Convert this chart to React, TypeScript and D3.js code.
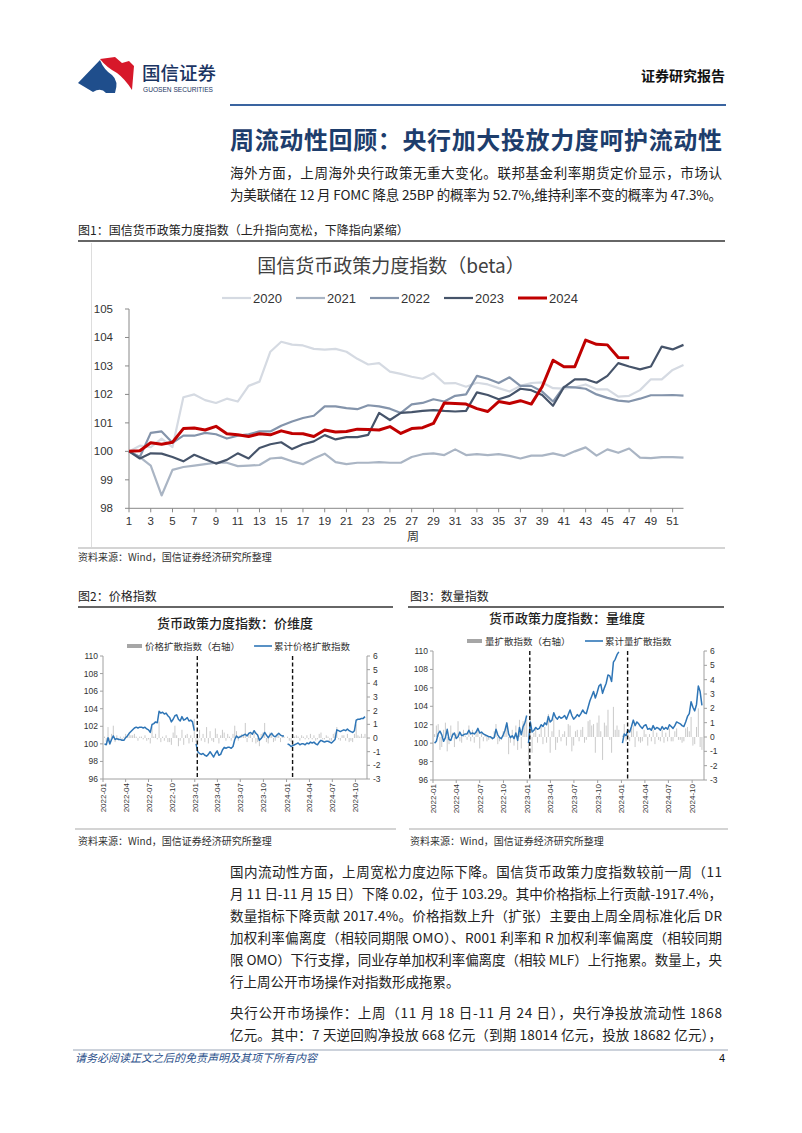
import React from 'react';
import * as d3 from 'd3';

// ---------- Main chart data (weekly, index 100 at week 1) ----------
const weekTicks = [1,3,5,7,9,11,13,15,17,19,21,23,25,27,29,31,33,35,37,39,41,43,45,47,49,51];
const yTicksMain = [98,99,100,101,102,103,104,105];
const y2020 = [100,100.2,100.15,100.45,100.15,101.9,102.0,101.8,101.7,101.85,101.75,102.3,102.45,103.5,103.85,103.75,103.72,103.6,103.57,103.6,103.5,103.25,103.05,103.1,102.8,102.72,102.62,102.55,102.74,102.39,102.4,102.27,102.41,102.35,102.22,102.1,102.3,102.4,102.42,102.22,102.2,102.25,102.35,102.18,102.18,101.92,101.95,102.15,102.53,102.53,102.86,103.03];
const y2021 = [100,99.8,99.5,98.45,99.35,99.45,99.5,99.55,99.6,99.6,99.48,99.5,99.52,99.75,99.78,99.65,99.55,99.75,99.92,99.62,99.55,99.6,99.6,99.62,99.6,99.6,99.8,99.9,99.93,99.87,100.07,99.87,99.9,99.87,99.9,99.84,99.75,99.85,99.85,99.93,99.84,100.0,100.14,99.85,100.07,99.95,100.1,99.78,99.76,99.8,99.8,99.78];
const y2022 = [100,99.8,100.65,100.7,100.3,100.55,100.55,100.65,100.6,100.45,100.55,100.6,100.7,100.7,100.9,101.05,101.17,101.25,101.58,101.58,101.52,101.48,101.62,101.58,101.5,101.35,101.65,101.7,101.83,101.75,101.95,102.0,102.65,102.55,102.4,102.6,102.3,102.3,102.1,101.75,102.27,102.25,102.2,102.0,101.88,101.78,101.75,101.85,101.97,101.97,101.98,101.96];
const y2023 = [100,99.75,99.93,99.92,99.8,99.65,99.88,99.72,99.57,99.7,99.93,99.75,100.12,100.25,100.32,100.08,100.25,100.35,100.57,100.42,100.5,100.5,100.58,101.35,101.1,101.35,101.38,101.42,101.45,101.42,101.4,101.42,102.07,101.98,101.83,101.95,102.2,102.15,101.98,101.6,102.25,102.53,102.53,102.41,102.65,103.1,102.98,102.88,102.98,103.68,103.58,103.74];
const y2024 = [100,100.02,100.3,100.25,100.32,100.8,100.82,100.75,100.88,100.62,100.58,100.52,100.62,100.58,100.72,100.63,100.62,100.52,100.75,100.68,100.7,100.78,100.77,100.75,100.87,100.63,100.8,100.83,100.98,101.7,101.68,101.66,101.5,101.4,101.75,101.68,101.78,101.66,102.27,103.2,102.97,102.97,103.91,103.76,103.74,103.3,103.29];
const yearNames = ['2020','2021','2022','2023','2024'];
const yearColors = ['#d5dae2','#aab5c4','#8494ab','#46546a','#c00000'];
const yearWidths = [2.2,2.2,2.2,2.2,3];
const yearValues = [y2020,y2021,y2022,y2023,y2024];

// ---------- Price dimension (weekly) ----------
const priceLine2022 = [100.0,99.9,100.7,100.0,100.5,100.9,100.5,100.6,100.5,100.5,100.4,100.4,100.7,100.9,101.2,101.4,101.6,101.8,101.9,101.8,101.9,101.9,101.8,101.9,101.7,101.6,101.3,102.2,102.3,102.5,102.4,103.7,103.5,103.6,103.4,103.5,103.2,103.0,102.5,102.8,103.2,103.3,102.8,102.6,103.1,102.7,102.8,103.0,102.6,102.7,102.5,101.5];
const priceLine2023 = [100.0,99.1,98.9,98.8,98.9,98.7,98.6,98.8,99.1,98.8,98.5,98.9,99.2,98.7,98.8,99.3,99.6,99.5,99.6,99.6,99.5,99.7,100.5,100.9,100.7,100.8,100.9,101.0,101.1,100.9,101.2,101.3,101.1,101.5,101.2,101.0,100.4,100.6,100.9,101.3,101.0,100.7,101.0,101.2,100.9,100.8,101.0,101.2,101.0,100.9,100.9];
const priceLine2024 = [100.0,99.9,99.7,99.8,99.9,100.0,100.1,99.9,100.0,100.0,99.9,100.1,100.0,100.2,100.1,100.2,100.0,99.9,100.2,100.4,100.3,100.2,100.3,100.3,100.2,100.1,100.3,100.5,101.6,101.5,101.4,101.5,101.6,101.5,101.7,101.5,101.4,101.3,101.5,102.7,102.8,102.8,102.9,102.9,103.1];
const priceBar2022 = [0.1,-0.3,0.8,-0.5,0.3,0.9,-0.3,0.2,-0.1,0.1,-0.2,0.1,0.3,0.2,0.3,0.2,0.2,0.3,0.1,-0.2,0.1,0.1,-0.1,0.2,-0.2,-0.1,-0.4,0.8,0.1,0.3,-0.1,1.2,-0.3,0.1,-0.2,0.2,-0.3,-0.3,-0.5,0.4,0.9,0.2,-0.6,-0.2,0.6,-0.5,0.2,0.3,-0.4,0.2,-0.3,1.4];
const priceBar2023 = [-0.3,-0.5,0.6,-0.2,0.3,-0.3,0.8,-0.4,0.5,-0.2,-0.3,0.7,0.3,-0.4,0.2,0.6,0.4,-0.2,0.3,0.1,-0.2,0.3,0.9,0.5,-0.2,0.2,0.3,0.2,1.1,-0.3,0.4,0.3,-0.3,0.5,-0.4,-0.3,-0.6,0.3,0.4,1.1,-0.3,-0.4,0.4,0.3,-0.3,-0.2,0.3,0.2,-0.3,0.2,0.1];
const priceBar2024 = [0.1,-0.2,-0.3,0.2,0.1,0.2,0.1,-0.2,0.2,0.1,-0.1,0.2,-0.1,0.3,-0.1,0.2,-0.2,-0.1,0.3,0.4,-0.1,-0.1,0.2,0.1,-0.2,-0.2,0.3,0.4,0.8,-0.1,-0.2,0.2,0.2,-0.2,0.3,-0.3,-0.2,-0.3,0.3,1.0,0.2,0.1,0.3,0.1,0.3];

// ---------- Quantity dimension (weekly) ----------
const qtyLine2022 = [100.0,100.2,101.0,101.3,100.9,100.2,100.6,101.5,100.4,100.3,100.9,101.1,100.5,100.7,101.2,100.8,100.9,101.0,101.0,101.4,101.0,101.1,101.0,101.2,101.6,101.1,101.2,101.0,100.9,100.8,100.7,100.7,100.5,100.6,101.5,100.9,100.6,100.5,100.9,101.4,102.2,101.0,100.6,100.8,100.5,101.1,100.3,101.7,100.9,101.8,102.2,103.0];
const qtyLine2023 = [100.0,102.3,101.2,101.4,101.7,101.5,101.6,102.0,101.8,102.2,102.0,102.9,102.3,102.5,103.3,102.8,102.6,102.9,102.7,102.8,103.0,102.6,103.1,103.6,103.0,102.6,102.8,103.1,102.9,103.2,103.6,103.3,103.2,103.9,104.6,105.1,105.6,104.9,105.5,106.2,106.4,105.4,106.0,106.5,107.4,107.3,106.7,108.8,109.1,109.6,109.9];
const qtyLine2024 = [100.0,101.0,100.8,101.4,101.2,101.8,102.5,101.9,102.3,102.1,101.8,101.6,101.9,102.0,101.5,101.6,101.4,101.9,101.5,101.7,101.6,101.4,101.8,101.5,101.7,101.5,102.0,101.8,101.6,101.9,102.3,102.2,102.1,101.9,101.8,102.3,102.9,103.2,104.5,103.9,103.5,104.2,106.2,105.6,104.1];
const qtyBar2022 = [0.2,0.8,0.9,-0.9,-0.7,0.5,1.0,-1.0,-0.5,0.8,0.3,-0.7,0.2,1.1,-0.3,-0.4,0.5,0.1,-0.2,0.8,-0.3,0.5,-0.4,0.4,0.6,-0.8,0.3,-0.3,0.2,-0.3,-0.2,-0.1,-0.2,0.4,0.9,-0.5,-0.3,-0.2,0.4,0.5,1.0,-1.2,-0.4,0.5,-0.6,0.8,-0.9,1.2,-0.8,1.1,0.9,1.2];
const qtyBar2023 = [-2.0,1.9,-1.1,0.3,0.6,-0.4,0.2,0.9,-0.5,0.7,-0.4,1.6,-1.1,0.4,1.3,-0.9,-0.4,0.5,-0.3,0.2,0.4,-0.6,0.9,0.8,-1.0,-0.6,0.4,0.5,-0.3,0.5,0.7,-0.4,-0.2,1.1,1.2,0.8,0.9,-1.1,1.0,1.5,0.4,-1.6,1.0,0.8,1.9,-0.2,-1.1,2.1,0.5,0.8,0.5];
const qtyBar2024 = [0.1,0.9,-0.3,0.6,-0.3,0.6,0.8,-0.7,0.4,-0.3,-0.4,-0.3,0.5,0.2,-0.6,0.2,-0.3,0.5,-0.5,0.3,-0.2,-0.3,0.5,-0.4,0.3,-0.3,0.6,-0.3,-0.3,0.4,0.6,-0.2,-0.2,-0.4,-0.3,0.6,0.7,0.4,1.4,-0.6,-0.5,0.7,2.0,-0.7,-0.9];

const yearStarts = ['2022-01-07','2023-01-06','2024-01-05'];
const dividerDates = ['2023-01-11','2024-01-25'];
const monthTicks = ['2022-01','2022-04','2022-07','2022-10','2023-01','2023-04','2023-07','2023-10','2024-01','2024-04','2024-07','2024-10'];
const leftTicksSmall = [96,98,100,102,104,106,108,110];
const rightTicksSmall = [-3,-2,-1,0,1,2,3,4,5,6];

const CJK = "'Noto Sans CJK SC', 'Noto Sans', sans-serif";
const NUM = "'Liberation Sans', Arial, sans-serif";

const parse = (s: string) => new Date(s + 'T00:00:00');

function weekly(start: string, vals: number[]) {
  const s = parse(start);
  return vals.map((v, i) => ({ d: d3.timeDay.offset(s, 7 * i), v }));
}

type SmallProps = {
  x0: number; x1: number; yTop: number; yBot: number;
  lines: number[][]; bars: number[][];
  title: string; titleX: number; legBar: string; legLine: string;
  legBarX: number; legLineX: number;
};

function SmallChart(p: SmallProps) {
  const x = d3.scaleTime().domain([parse('2022-01-01'), parse('2024-11-16')]).range([p.x0, p.x1]);
  const yl = d3.scaleLinear().domain([96, 110]).range([p.yBot, p.yTop]);
  const yr = d3.scaleLinear().domain([-3, 6]).range([p.yBot, p.yTop]);
  const line = d3.line<{ d: Date; v: number }>().x(q => x(q.d)).y(q => yl(q.v));
  const legY = p.yTop - 10;
  return (
    <g>
      <text x={p.titleX} y={p.yTop - 28} textAnchor="middle" fontFamily={CJK} fontSize={13} fill="#222" fontWeight={500}>{p.title}</text>
      <rect x={p.legBarX} y={legY - 2} width={15} height={4} fill="#a6a6a6" />
      <text x={p.legBarX + 18} y={legY + 3.5} fontFamily={CJK} fontSize={9.5} fill="#333">{p.legBar}</text>
      <line x1={p.legLineX} x2={p.legLineX + 18} y1={legY} y2={legY} stroke="#2e75b6" strokeWidth={1.6} />
      <text x={p.legLineX + 20} y={legY + 3.5} fontFamily={CJK} fontSize={9.5} fill="#333">{p.legLine}</text>
      {/* bars */}
      {p.bars.map((arr, k) => weekly(yearStarts[k], arr).map((q, i) => (
        <line key={`b${k}-${i}`} x1={x(q.d)} x2={x(q.d)} y1={yr(0)} y2={yr(q.v)} stroke="#c4c4c4" strokeWidth={0.9} />
      )))}
      {/* lines */}
      {p.lines.map((arr, k) => (
        <path key={`l${k}`} d={line(weekly(yearStarts[k], arr)) || ''} fill="none" stroke="#2e75b6" strokeWidth={1.5} strokeLinejoin="round" />
      ))}
      {dividerDates.map(s => (
        <line key={s} x1={x(parse(s))} x2={x(parse(s))} y1={p.yTop} y2={p.yBot} stroke="#111" strokeWidth={1.4} strokeDasharray="4,2.5" />
      ))}
      {/* axes */}
      <line x1={p.x0} x2={p.x0} y1={p.yTop} y2={p.yBot} stroke="#a0a0a0" strokeWidth={1} />
      <line x1={p.x1} x2={p.x1} y1={p.yTop} y2={p.yBot} stroke="#a0a0a0" strokeWidth={1} />
      <line x1={p.x0} x2={p.x1} y1={p.yBot} y2={p.yBot} stroke="#a0a0a0" strokeWidth={1} />
      {leftTicksSmall.map(t => (
        <g key={`lt${t}`}>
          <line x1={p.x0 - 3} x2={p.x0} y1={yl(t)} y2={yl(t)} stroke="#a0a0a0" />
          <text x={p.x0 - 5} y={yl(t) + 3} textAnchor="end" fontFamily={NUM} fontSize={8.5} fill="#333">{t}</text>
        </g>
      ))}
      {rightTicksSmall.map(t => (
        <g key={`rt${t}`}>
          <line x1={p.x1} x2={p.x1 + 3} y1={yr(t)} y2={yr(t)} stroke="#a0a0a0" />
          <text x={p.x1 + 6} y={yr(t) + 3} textAnchor="start" fontFamily={NUM} fontSize={8.5} fill="#333">{t}</text>
        </g>
      ))}
      {monthTicks.map(m => {
        const xx = x(parse(m + '-01'));
        return (
          <g key={m}>
            <line x1={xx} x2={xx} y1={p.yBot} y2={p.yBot + 3} stroke="#a0a0a0" />
            <text transform={`translate(${xx + 3},${p.yBot + 4}) rotate(-90)`} textAnchor="end" fontFamily={NUM} fontSize={8} fill="#333">{m}</text>
          </g>
        );
      })}
    </g>
  );
}

function MainChart() {
  const x = d3.scaleLinear().domain([1, 52]).range([129, 683.5]);
  const y = d3.scaleLinear().domain([98, 105]).range([508.3, 309]);
  const line = d3.line<number>().x((_, i) => x(i + 1)).y(v => y(v));
  const legX = [222, 296, 370, 444, 518];
  return (
    <g>
      <text x={391} y={273} textAnchor="middle" fontFamily={CJK} fontSize={19} fill="#404040">国信货币政策力度指数（beta）</text>
      {yearNames.map((n, i) => (
        <g key={n}>
          <line x1={legX[i]} x2={legX[i] + 29} y1={298} y2={298} stroke={yearColors[i]} strokeWidth={yearWidths[i]} />
          <text x={legX[i] + 31} y={302.5} fontFamily={NUM} fontSize={13} fill="#333">{n}</text>
        </g>
      ))}
      <line x1={129} x2={129} y1={309} y2={508.3} stroke="#888" />
      <line x1={129} x2={683.5} y1={508.3} y2={508.3} stroke="#888" />
      {yTicksMain.map(t => (
        <g key={t}>
          <line x1={125} x2={129} y1={y(t)} y2={y(t)} stroke="#888" />
          <text x={113} y={y(t) + 4} textAnchor="end" fontFamily={NUM} fontSize={11.5} fill="#333">{t}</text>
        </g>
      ))}
      {weekTicks.map(w => (
        <g key={w}>
          <line x1={x(w)} x2={x(w)} y1={508.3} y2={512.3} stroke="#888" />
          <text x={x(w)} y={525} textAnchor="middle" fontFamily={NUM} fontSize={11.5} fill="#333">{w}</text>
        </g>
      ))}
      <text x={413} y={541} textAnchor="middle" fontFamily={CJK} fontSize={12} fill="#333">周</text>
      {yearValues.map((vals, i) => (
        <path key={i} d={line(vals) || ''} fill="none" stroke={yearColors[i]} strokeWidth={yearWidths[i]} strokeLinejoin="round" />
      ))}
    </g>
  );
}

const para2 = [
  '国内流动性方面，上周宽松力度边际下降。国信货币政策力度指数较前一周（11',
  '月 11 日-11 月 15 日）下降 0.02，位于 103.29。其中价格指标上行贡献-1917.4%，',
  '数量指标下降贡献 2017.4%。价格指数上升（扩张）主要由上周全周标准化后 DR',
  '加权利率偏离度（相较同期限 OMO）、R001 利率和 R 加权利率偏离度（相较同期',
  '限 OMO）下行支撑，同业存单加权利率偏离度（相较 MLF）上行拖累。数量上，央',
  '行上周公开市场操作对指数形成拖累。',
];
const para3 = [
  '央行公开市场操作：上周（11 月 18 日-11 月 24 日），央行净投放流动性 1868',
  '亿元。其中：7 天逆回购净投放 668 亿元（到期 18014 亿元，投放 18682 亿元），',
];
const para1 = [
  '海外方面，上周海外央行政策无重大变化。联邦基金利率期货定价显示，市场认',
  '为美联储在 12 月 FOMC 降息 25BP 的概率为 52.7%,维持利率不变的概率为 47.3%。',
];

function Body({ lines, y0, justifyLast }: { lines: string[]; y0: number; justifyLast: boolean }) {
  return (
    <g>
      {lines.map((t, i) => {
        const justify = i < lines.length - 1 || justifyLast;
        return (
          <text key={i} x={230} y={y0 + i * 22} fontFamily={CJK} fontSize={13.5} fill="#222"
            {...(justify ? { textLength: 492, lengthAdjust: 'spacing' } : {})}>{t}</text>
        );
      })}
    </g>
  );
}

export default function App() {
  return (
    <svg width={802} height={1133} viewBox="0 0 802 1133" style={{ position: 'absolute', left: 0, top: 0, background: '#fff' }}>
      <rect x={0} y={0} width={802} height={1133} fill="#fff" />
      {/* header logo */}
      <path d="M78,83 L100,60 Q104,70 112,75 Q119,81 115,93 L106,93 Q101,87 93,92 Z" fill="#1f4e8c" />
      <path d="M100,59 L115,57 L122,63 L129,61 L134,66 L132,90 Q125,79 117,73 Q106,67 100,59 Z" fill="#d7182a" />
      <text x={142} y={80} fontFamily={CJK} fontSize={18.5} fill="#1b3563" fontWeight={500}>国信证券</text>
      <text x={143} y={92} fontFamily={NUM} fontSize={7} fill="#1b3563" textLength={70} lengthAdjust="spacingAndGlyphs">GUOSEN SECURITIES</text>
      <text x={725} y={81} textAnchor="end" fontFamily={CJK} fontSize={14} fontWeight={700} fill="#111">证券研究报告</text>
      <line x1={230} x2={726} y1={105} y2={105} stroke="#3a64a0" strokeWidth={2} />

      {/* title */}
      <text x={230} y={149} fontFamily={CJK} fontSize={24} fontWeight={700} fill="#1d3d6c" textLength={492} lengthAdjust="spacing">周流动性回顾：央行加大投放力度呵护流动性</text>
      <Body lines={para1} y0={178} justifyLast={true} />

      {/* figure 1 */}
      <text x={78} y={235} fontFamily={CJK} fontSize={12} fill="#222">图1：国信货币政策力度指数（上升指向宽松，下降指向紧缩）</text>
      <line x1={78} x2={725} y1={241} y2={241} stroke="#333" strokeWidth={1.5} />
      <line x1={91.5} x2={91.5} y1={243} y2={547} stroke="#ddd" />
      <MainChart />
      <line x1={78} x2={725} y1={548} y2={548} stroke="#aaa" strokeWidth={1.2} />
      <text x={78} y={561} fontFamily={CJK} fontSize={10} fill="#333">资料来源：Wind，国信证券经济研究所整理</text>

      {/* figure 2 & 3 */}
      <text x={78} y={601} fontFamily={CJK} fontSize={12} fill="#222">图2：价格指数</text>
      <line x1={78} x2={393} y1={607} y2={607} stroke="#333" strokeWidth={1.3} />
      <text x={410} y={601} fontFamily={CJK} fontSize={12} fill="#222">图3：数量指数</text>
      <line x1={408} x2={724} y1={607} y2={607} stroke="#333" strokeWidth={1.3} />
      <SmallChart x0={103} x1={367} yTop={656} yBot={779}
        lines={[priceLine2022, priceLine2023, priceLine2024]} bars={[priceBar2022, priceBar2023, priceBar2024]}
        title="货币政策力度指数：价维度" titleX={235} legBar="价格扩散指数（右轴）" legLine="累计价格扩散指数"
        legBarX={127} legLineX={254} />
      <SmallChart x0={433} x1={704} yTop={651} yBot={780}
        lines={[qtyLine2022, qtyLine2023, qtyLine2024]} bars={[qtyBar2022, qtyBar2023, qtyBar2024]}
        title="货币政策力度指数：量维度" titleX={567} legBar="量扩散指数（右轴）" legLine="累计量扩散指数"
        legBarX={467} legLineX={585} />
      <line x1={75} x2={396} y1={829} y2={829} stroke="#aaa" strokeWidth={1.2} />
      <line x1={409} x2={728} y1={829} y2={829} stroke="#aaa" strokeWidth={1.2} />
      <text x={78} y={845} fontFamily={CJK} fontSize={10} fill="#333">资料来源：Wind，国信证券经济研究所整理</text>
      <text x={410} y={845} fontFamily={CJK} fontSize={10} fill="#333">资料来源：Wind，国信证券经济研究所整理</text>

      <Body lines={para2} y0={877} justifyLast={false} />
      <Body lines={para3} y0={1018} justifyLast={true} />

      {/* footer */}
      <line x1={73} x2={728} y1={1050} y2={1050} stroke="#9aa6b8" strokeWidth={1.2} />
      <text x={75} y={1062} fontFamily={CJK} fontSize={11} fontStyle="italic" fill="#2a4f8a">请务必阅读正文之后的免责声明及其项下所有内容</text>
      <text x={725} y={1062} textAnchor="end" fontFamily={NUM} fontSize={11} fill="#111">4</text>
    </svg>
  );
}
